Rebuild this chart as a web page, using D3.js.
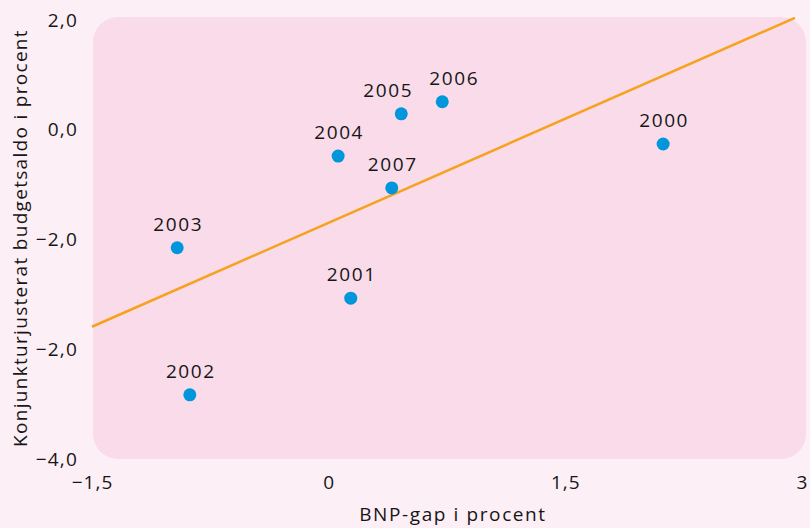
<!DOCTYPE html>
<html lang="sv">
<head>
  <meta charset="UTF-8">
  <title>BNP-gap och budgetsaldo</title>
  <script src="https://d3js.org/d3.v7.min.js"></script>
  <style>
    * { margin: 0; padding: 0; box-sizing: border-box; }
    body { background: #fdeff6; font-family: "Open Sans", sans-serif; }
    text { font-family: "Open Sans", sans-serif; font-size: 19px; letter-spacing: 1.6px; fill: #161616; }
  </style>
</head>
<body>
  <div id="chart"></div>
  <script>
    // data
    const years = ["2000", "2001", "2002", "2003", "2004", "2005", "2006", "2007"];
    const bnpGap = [2.12, 0.14, -0.88, -0.96, 0.06, 0.46, 0.72, 0.40];
    const saldo = [-0.26, -3.07, -4.83, -2.15, -0.48, 0.29, 0.51, -1.06];
    const trendX = [-1.5, 2.955];
    const trendY = [-3.59, 2.04];
    const xTicks = [-1.5, 0, 1.5, 3];
    const xTickLabels = ["−1,5", "0", "1,5", "3"];
    const yTicks = [2, 0, -2, -4, -6];
    const yTickLabels = ["2,0", "0,0", "−2,0", "−2,0", "−4,0"];

    const W = 810, H = 528;
    const svg = d3.select("#chart").append("svg")
      .attr("width", W).attr("height", H);

    const x = d3.scaleLinear().domain([-1.5, 3]).range([92, 802]);
    const y = d3.scaleLinear().domain([-6, 2]).range([459, 20]);

    // plot background
    svg.append("rect")
      .attr("x", 93).attr("y", 17)
      .attr("width", 713).attr("height", 442)
      .attr("rx", 25).attr("ry", 25)
      .attr("fill", "#f9dbe9");

    // y axis labels
    svg.append("g")
      .attr("transform", "translate(78,0)")
      .call(d3.axisLeft(y).tickValues(yTicks).tickSize(0).tickPadding(0)
        .tickFormat((d, i) => yTickLabels[i]))
      .call(g => g.select(".domain").remove())
      .selectAll("text")
      .style("font-size", "19px")
      .style("letter-spacing", "1.2px");

    // x axis labels
    svg.append("g")
      .attr("transform", "translate(0,475)")
      .call(d3.axisBottom(x).tickValues(xTicks).tickSize(0).tickPadding(0)
        .tickFormat((d, i) => xTickLabels[i]))
      .call(g => g.select(".domain").remove())
      .selectAll("text")
      .style("font-size", "19px")
      .style("letter-spacing", "1px");

    // trend line
    const trend = trendX.map((v, i) => ({ x: v, y: trendY[i] }));
    svg.append("path")
      .datum(trend)
      .attr("fill", "none")
      .attr("stroke", "#f6a21e")
      .attr("stroke-width", 2.5)
      .attr("d", d3.line().x(d => x(d.x)).y(d => y(d.y)));

    const pts = years.map((yr, i) => ({ yr, gx: bnpGap[i], sy: saldo[i] }));

    svg.selectAll(".dot")
      .data(pts)
      .enter().append("circle")
      .attr("class", "dot")
      .attr("cx", d => x(d.gx))
      .attr("cy", d => y(d.sy))
      .attr("r", 6.5)
      .attr("fill", "#0096dc");

    // a couple of labels are nudged sideways so they don't collide
    const nudge = { "2005": -14, "2006": 11 };
    svg.selectAll(".lbl")
      .data(pts)
      .enter().append("text")
      .attr("class", "lbl")
      .attr("x", d => x(d.gx) + 1 + (nudge[d.yr] || 0))
      .attr("y", d => y(d.sy) - 17)
      .attr("text-anchor", "middle")
      .text(d => d.yr);

    // axis titles
    svg.append("text")
      .attr("x", 453).attr("y", 521)
      .attr("text-anchor", "middle")
      .text("BNP-gap i procent");

    svg.append("text")
      .attr("transform", "translate(27,238) rotate(-90)")
      .attr("text-anchor", "middle")
      .style("letter-spacing", "1.3px")
      .text("Konjunkturjusterat budgetsaldo i procent");
  </script>
</body>
</html>
